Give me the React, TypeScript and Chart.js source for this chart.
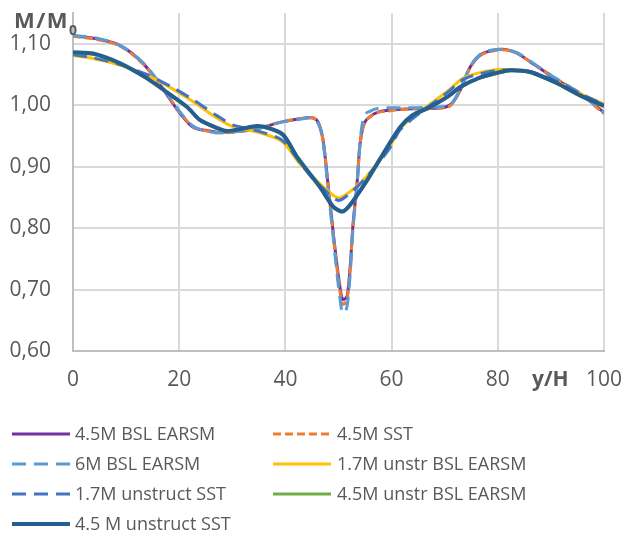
import React, { useEffect, useRef } from 'react';
import { Chart, registerables } from 'chart.js';

Chart.register(...registerables);

// ---- data ----
const yTickValues = [0.6, 0.7, 0.8, 0.9, 1.0, 1.1];
const xTickValues = [0, 20, 40, 60, 80, 100];

const seriesNames = [
  '4.5M BSL EARSM',
  '4.5M SST',
  '6M BSL EARSM',
  '1.7M unstr BSL EARSM',
  '1.7M unstruct SST',
  '4.5M unstr BSL EARSM',
  '4.5 M unstruct SST',
];

const xStruct = [0, 5, 8.9, 13.2, 16.4, 18.8, 20.7, 22.6, 25.2, 27.7, 31, 35.2, 39, 42.7, 44.6, 45.9, 47.1, 48, 49, 50, 50.8, 51.6, 52.2, 52.7, 53.5, 54, 54.6, 55.9, 59.7, 64, 68, 70.2, 71.4, 72.9, 74.8, 76.6, 79, 80.8, 83.5, 86.2, 91.2, 95.5, 100];
const yBslEarsm45 = [1.113, 1.107, 1.097, 1.068, 1.033, 1.003, 0.981, 0.964, 0.959, 0.956, 0.957, 0.963, 0.972, 0.978, 0.980, 0.976, 0.943, 0.874, 0.793, 0.721, 0.684, 0.689, 0.737, 0.802, 0.874, 0.932, 0.964, 0.981, 0.992, 0.994, 0.995, 0.997, 1.003, 1.024, 1.062, 1.081, 1.089, 1.091, 1.085, 1.070, 1.041, 1.019, 0.988];
const ySst45 = [1.112, 1.106, 1.096, 1.067, 1.034, 1.004, 0.982, 0.965, 0.958, 0.955, 0.957, 0.963, 0.972, 0.978, 0.980, 0.975, 0.942, 0.872, 0.790, 0.715, 0.676, 0.684, 0.733, 0.800, 0.872, 0.931, 0.963, 0.981, 0.991, 0.994, 0.995, 0.996, 1.002, 1.024, 1.061, 1.080, 1.088, 1.090, 1.085, 1.070, 1.042, 1.019, 0.986];
const yBslEarsm6 = [1.114, 1.108, 1.097, 1.069, 1.035, 1.005, 0.983, 0.966, 0.958, 0.955, 0.957, 0.963, 0.972, 0.977, 0.979, 0.974, 0.940, 0.868, 0.785, 0.705, 0.662, 0.672, 0.725, 0.795, 0.870, 0.935, 0.975, 0.990, 0.996, 0.996, 0.997, 0.998, 1.004, 1.026, 1.063, 1.082, 1.090, 1.091, 1.086, 1.071, 1.042, 1.019, 0.988];

const xUnstr17 = [0, 3.8, 8.9, 13.9, 18.3, 22.6, 27.1, 30.1, 35.2, 39.4, 42.7, 44.6, 47.4, 50, 52.6, 55.2, 59.5, 61.6, 65, 70.4, 73.5, 76.6, 80.4, 86, 91.1, 95.5, 100];
const yUnstrBsl17 = [1.081, 1.076, 1.065, 1.049, 1.029, 1.006, 0.979, 0.965, 0.955, 0.941, 0.905, 0.888, 0.865, 0.849, 0.862, 0.883, 0.930, 0.962, 0.987, 1.022, 1.044, 1.053, 1.058, 1.055, 1.038, 1.019, 1.002];
const yUnstrSst17 = [1.082, 1.077, 1.066, 1.050, 1.031, 1.009, 0.983, 0.968, 0.957, 0.943, 0.907, 0.886, 0.862, 0.845, 0.860, 0.882, 0.928, 0.960, 0.985, 1.020, 1.042, 1.051, 1.057, 1.055, 1.039, 1.019, 1.001];

const xUnstr45 = [0, 3.8, 8.9, 13.9, 17.7, 21.5, 23.9, 27.1, 29, 31.5, 34.7, 37.5, 39.7, 42.2, 46.5, 49, 50.7, 52.2, 55.4, 58, 61.6, 64, 67, 70.4, 73, 76.6, 80, 82.3, 86.1, 91.1, 95.5, 100];
const yUnstrBsl45 = [1.085, 1.083, 1.067, 1.043, 1.020, 0.996, 0.975, 0.962, 0.957, 0.960, 0.965, 0.960, 0.949, 0.914, 0.866, 0.834, 0.826, 0.837, 0.877, 0.914, 0.963, 0.983, 0.995, 1.012, 1.029, 1.044, 1.052, 1.056, 1.053, 1.035, 1.015, 0.998];
const yUnstrSst45 = [1.086, 1.084, 1.068, 1.044, 1.021, 0.997, 0.976, 0.963, 0.958, 0.961, 0.966, 0.961, 0.951, 0.916, 0.867, 0.835, 0.827, 0.838, 0.878, 0.915, 0.964, 0.984, 0.996, 1.013, 1.030, 1.045, 1.053, 1.057, 1.054, 1.036, 1.016, 0.999];

const seriesX = [xStruct, xStruct, xStruct, xUnstr17, xUnstr17, xUnstr45, xUnstr45];
const seriesY = [yBslEarsm45, ySst45, yBslEarsm6, yUnstrBsl17, yUnstrSst17, yUnstrBsl45, yUnstrSst45];

// ---- styles ----
const colors = ['#7030A0', '#ED7D31', '#5B9BD5', '#FFC000', '#4472C4', '#70AD47', '#255E91'];
const dashes: number[][] = [[], [8, 4], [14, 8], [], [14, 8], [], []];
const widths = [3, 3, 3, 3, 3, 3, 4];
const smooth = ['monotone', 'monotone', 'monotone', 'default', 'default', 'default', 'default'];

const FONT = '"Open Sans", "DejaVu Sans", sans-serif';
const TEXT = '#595959';

const overlayPlugin = {
  id: 'overlay',
  afterDraw(chart: any) {
    const ctx = chart.ctx;
    ctx.save();
    // axis titles
    ctx.fillStyle = TEXT;
    ctx.textBaseline = 'alphabetic';
    ctx.textAlign = 'left';
    ctx.font = `bold 22px ${FONT}`;
    try { (ctx as any).letterSpacing = '1.5px'; } catch (e) {}
    ctx.fillText('M/M', 14, 28);
    const w = ctx.measureText('M/M').width;
    try { (ctx as any).letterSpacing = '0px'; } catch (e) {}
    ctx.font = `bold 14px ${FONT}`;
    ctx.fillText('0', 14 + w, 35);
    ctx.font = `bold 21px ${FONT}`;
    ctx.fillText('y/H', 532, 386);

    // legend
    const ds = chart.data.datasets;
    const colLine = [12, 273];
    const colText = [75, 337];
    const lineLen = 58;
    const rowY = [434, 464, 494, 524];
    ctx.font = `18px ${FONT}`;
    ctx.textBaseline = 'middle';
    ds.forEach((d: any, i: number) => {
      const col = i % 2;
      const row = Math.floor(i / 2);
      const y = rowY[row];
      ctx.save();
      ctx.strokeStyle = d.borderColor;
      ctx.lineWidth = d.borderWidth;
      ctx.setLineDash(d.borderDash || []);
      ctx.beginPath();
      ctx.moveTo(colLine[col], y);
      ctx.lineTo(colLine[col] + lineLen, y);
      ctx.stroke();
      ctx.restore();
      ctx.fillStyle = TEXT;
      ctx.fillText(d.label, colText[col], y + 1);
    });
    ctx.restore();
  },
};

export default function App() {
  const ref = useRef<HTMLCanvasElement | null>(null);

  useEffect(() => {
    document.body.style.margin = '0';
    if (!ref.current) return;
    const datasets = seriesNames.map((name, i) => ({
      label: name,
      data: seriesX[i].map((x, k) => ({ x, y: seriesY[i][k] })),
      borderColor: colors[i],
      backgroundColor: colors[i],
      borderWidth: widths[i],
      borderDash: dashes[i],
      borderJoinStyle: 'round',
      pointRadius: 0,
      fill: false,
      tension: smooth[i] === 'monotone' ? 0 : 0.25,
      cubicInterpolationMode: smooth[i],
      order: seriesNames.length - i,
    }));

    const chart = new Chart(ref.current, {
      type: 'line',
      data: { datasets } as any,
      options: {
        animation: false,
        responsive: false,
        maintainAspectRatio: false,
        layout: { padding: { top: 13, right: 28, left: 0, bottom: 0 } },
        plugins: { legend: { display: false }, tooltip: { enabled: false } },
        scales: {
          x: {
            type: 'linear',
            min: 0,
            max: 100,
            afterBuildTicks: (axis: any) => {
              axis.ticks = xTickValues.map((v) => ({ value: v }));
            },
            afterFit: (axis: any) => {
              axis.height = 184;
              axis.paddingLeft = 0;
              axis.paddingRight = 0;
              axis.paddingTop = 0;
              axis.paddingBottom = 0;
            },
            grid: { color: '#d9d9d9', lineWidth: 2, drawTicks: false },
            border: { display: true, color: '#bfbfbf', width: 2 },
            ticks: {
              padding: 16,
              color: TEXT,
              font: { family: FONT, size: 21 },
              maxRotation: 0,
              autoSkip: false,
            },
          },
          y: {
            type: 'linear',
            min: 0.6,
            max: 1.15,
            afterBuildTicks: (axis: any) => {
              axis.ticks = yTickValues.map((v) => ({ value: v }));
            },
            afterFit: (axis: any) => {
              axis.width = 73;
              axis.paddingLeft = 0;
              axis.paddingRight = 0;
              axis.paddingTop = 0;
              axis.paddingBottom = 0;
            },
            grid: { color: '#d9d9d9', lineWidth: 2, drawTicks: false },
            border: { display: true, color: '#bfbfbf', width: 2 },
            ticks: {
              padding: 22,
              color: TEXT,
              font: { family: FONT, size: 21 },
              autoSkip: false,
              callback: (v: any) => Number(v).toFixed(2).replace('.', ','),
            },
          },
        },
      } as any,
      plugins: [overlayPlugin],
    });
    return () => chart.destroy();
  }, []);

  return (
    <div style={{ width: 632, height: 535 }}>
      <canvas ref={ref} width={632} height={535} style={{ display: 'block' }} />
    </div>
  );
}
